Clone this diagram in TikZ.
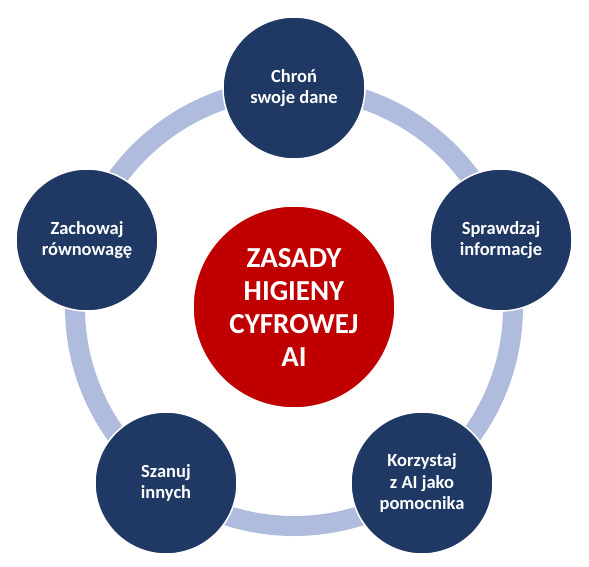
\documentclass[tikz,border=0pt]{standalone}
\usepackage{fontspec}
\setmainfont{Carlito}
\definecolor{ringcol}{HTML}{AFBCDD}
\definecolor{navy}{HTML}{203864}
\definecolor{redc}{HTML}{C00000}
\begin{document}
\begin{tikzpicture}[x=1pt,y=-1pt,
  ring/.style={draw=ringcol,line width=20pt},
  smallc/.style={circle,fill=navy,draw=white,line width=1.5pt,minimum size=142pt,inner sep=0pt,
    text=white,align=center,font=\bfseries\fontsize{18.5}{21.5}\selectfont},
  bigc/.style={circle,fill=redc,draw=white,line width=1.5pt,minimum size=202pt,inner sep=0pt,
    text=white,align=center,font=\bfseries\fontsize{29}{33}\selectfont}]
\useasboundingbox (0,0) rectangle (589,567);
\coordinate (o) at (294,307);
\draw[ring] (o) circle[radius=219pt];
\node[bigc] (center) at (o) {ZASADY\\HIGIENY\\CYFROWEJ\\AI};
\node[smallc] (chron) at (294,88) {Chroń\\swoje dane};
\node[smallc] (spr) at (501,240) {Sprawdzaj\\informacje};
\node[smallc] (korz) at (422,483) {Korzystaj\\z AI jako\\pomocnika};
\node[smallc] (szan) at (166,483) {Szanuj\\innych};
\node[smallc] (zach) at (87,240) {Zachowaj\\równowagę};
\end{tikzpicture}
\end{document}
